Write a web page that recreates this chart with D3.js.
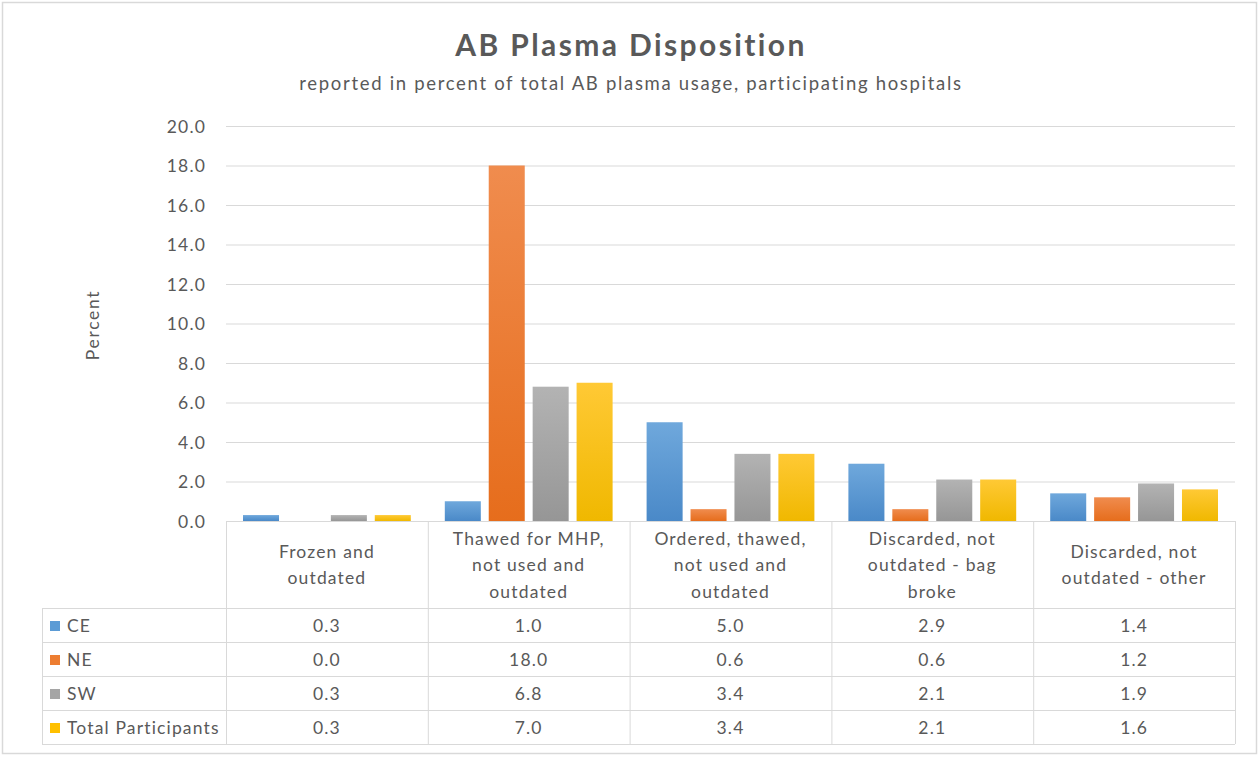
<!DOCTYPE html>
<html><head><meta charset="utf-8">
<script src="https://cdn.jsdelivr.net/npm/d3@7"></script>
<style>body{margin:0;background:#fff}svg{display:block}text{font-family:Lato,"Open Sans",sans-serif;fill:#595959}</style>
</head><body><svg id="c" width="1260" height="757"></svg>
<script>
const categories = [
  ["Frozen and","outdated"],
  ["Thawed for MHP,","not used and","outdated"],
  ["Ordered, thawed,","not used and","outdated"],
  ["Discarded, not","outdated - bag","broke"],
  ["Discarded, not","outdated - other"]
];
const seriesNames = ["CE","NE","SW","Total Participants"];
const CE = [0.3, 1.0, 5.0, 2.9, 1.4];
const NE = [0.0, 18.0, 0.6, 0.6, 1.2];
const SW = [0.3, 6.8, 3.4, 2.1, 1.9];
const Total = [0.3, 7.0, 3.4, 2.1, 1.6];
const yTicks = [0,2,4,6,8,10,12,14,16,18,20];
const colors = ["#5b9bd5","#ed7d31","#a5a5a5","#ffc000"];
const light = ["#6fa8dc","#f08c4e","#b3b3b3","#ffc935"];
const dark = ["#4a89c8","#e66d1c","#969696","#f0b800"];
const values = [CE, NE, SW, Total];

const svg = d3.select("#c");
const defs = svg.append("defs");
colors.forEach((c,i)=>{
  const g = defs.append("linearGradient").attr("id","g"+i).attr("x1",0).attr("x2",0).attr("y1",0).attr("y2",1);
  g.append("stop").attr("offset","0%").attr("stop-color",light[i]);
  g.append("stop").attr("offset","100%").attr("stop-color",dark[i]);
});

// spacing fit helper: letter-spacing so that text reaches a target width
function spacingFor(sample, size, weight, target){
  const t = svg.append("text").attr("font-size",size).attr("font-weight",weight||"normal").text(sample);
  const len = t.node().getComputedTextLength(); t.remove();
  return Math.max(0,(target-len)/sample.length);
}

// outer border
svg.append("rect").attr("x",2.5).attr("y",2.5).attr("width",1254).attr("height",751)
  .attr("fill","#fff").attr("stroke","#d9d9d9").attr("stroke-width",1.5);

const titleText = "AB Plasma Disposition";
const subText = "reported in percent of total AB plasma usage, participating hospitals";
svg.append("text").attr("x",631).attr("y",56).attr("text-anchor","middle")
  .attr("font-size",30).attr("font-weight","bold")
  .attr("letter-spacing",spacingFor(titleText,30,"bold",352)).text(titleText);
svg.append("text").attr("x",631).attr("y",90).attr("text-anchor","middle")
  .attr("font-size",18.5).attr("letter-spacing",spacingFor(subText,18.5,"normal",664)).text(subText);

const bodySize = 17.5;
const bodyLS = spacingFor("Total Participants", bodySize, "normal", 153);

const L = 226, R = 1235, T = 126, B = 521;
const y = d3.scaleLinear().domain([0,20]).range([B,T]);
const x0 = d3.scaleBand().domain(d3.range(categories.length)).range([L,R]).padding(0);
const x1 = d3.scaleBand().domain(d3.range(seriesNames.length))
  .range([17, x0.bandwidth()-17]).paddingInner(0.18).paddingOuter(0);

// gridlines
svg.append("g").selectAll("line").data(yTicks).join("line")
  .attr("x1",L).attr("x2",R).attr("y1",d=>y(d)+0.5).attr("y2",d=>y(d)+0.5)
  .attr("stroke","#d9d9d9").attr("stroke-width",1);

// y axis labels
const yAxis = d3.axisLeft(y).tickValues(yTicks).tickFormat(d3.format(".1f")).tickSize(0).tickPadding(20);
const ya = svg.append("g").attr("transform",`translate(${L},0)`).call(yAxis);
ya.select(".domain").remove();
ya.selectAll("text").attr("font-size",bodySize).attr("fill","#595959")
  .style("font-family","Lato,'Open Sans',sans-serif").attr("letter-spacing",bodyLS).attr("dy","0.35em");

svg.append("text").attr("transform","translate(99,325) rotate(-90)").attr("text-anchor","middle")
  .attr("font-size",bodySize).attr("letter-spacing",bodyLS+0.5).text("Percent");

// bars
const groups = svg.append("g").selectAll("g").data(categories.map((c,i)=>i)).join("g")
  .attr("transform",i=>`translate(${x0(i)},0)`);
groups.selectAll("rect").data(i=>values.map((v,s)=>({s,v:v[i]}))).join("rect")
  .attr("x",d=>x1(d.s)).attr("width",x1.bandwidth())
  .attr("y",d=>y(d.v)).attr("height",d=>B-y(d.v))
  .attr("fill",d=>`url(#g${d.s})`);

// table
const tl = 42, rowH = 34, hdrB = 608;
const tg = svg.append("g").attr("stroke","#d9d9d9").attr("stroke-width",1);
tg.append("line").attr("x1",L).attr("x2",R).attr("y1",B+0.5).attr("y2",B+0.5);
for(let r=0;r<=seriesNames.length;r++){
  const yy = hdrB + r*rowH + 0.5;
  tg.append("line").attr("x1",tl).attr("x2",R).attr("y1",yy).attr("y2",yy);
}
tg.append("line").attr("x1",tl+0.5).attr("x2",tl+0.5).attr("y1",hdrB).attr("y2",hdrB+4*rowH);
for(let c=0;c<=categories.length;c++){
  const xx = (c<categories.length? x0(c): R)+0.5;
  tg.append("line").attr("x1",xx).attr("x2",xx).attr("y1",B).attr("y2",hdrB+4*rowH);
}
// header text
categories.forEach((lines,i)=>{
  const cx = x0(i)+x0.bandwidth()/2;
  const n = lines.length, lh = 26.5, mid = 565;
  lines.forEach((t,k)=>{
    svg.append("text").attr("x",cx).attr("y",mid+(k-(n-1)/2)*lh).attr("dy","0.35em")
      .attr("text-anchor","middle").attr("font-size",bodySize).attr("letter-spacing",bodyLS).text(t);
  });
});
// rows
seriesNames.forEach((name,s)=>{
  const cy = hdrB + s*rowH + rowH/2 + 1;
  svg.append("rect").attr("x",50).attr("y",cy-5).attr("width",10).attr("height",10).attr("fill",colors[s]);
  svg.append("text").attr("x",67).attr("y",cy).attr("dy","0.35em").attr("font-size",bodySize)
    .attr("letter-spacing",bodyLS).text(name);
  values[s].forEach((v,i)=>{
    svg.append("text").attr("x",x0(i)+x0.bandwidth()/2).attr("y",cy).attr("dy","0.35em")
      .attr("text-anchor","middle").attr("font-size",bodySize).attr("letter-spacing",bodyLS).text(d3.format(".1f")(v));
  });
});
</script></body></html>
